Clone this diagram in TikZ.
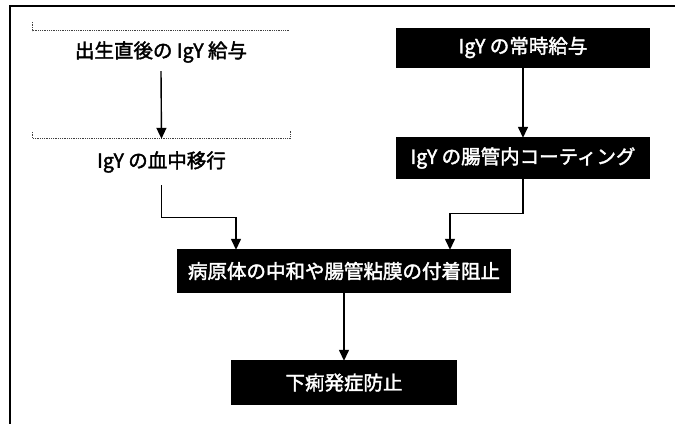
\documentclass[tikz,border=0pt]{standalone}
\usepackage{fontspec}
\setmainfont{Noto Sans CJK JP}
\newfontface\jpmed[FakeBold=2]{Noto Sans CJK JP}
\usetikzlibrary{arrows.meta}
\tikzset{
  wbox/.style={minimum height=42pt, inner sep=0pt, font=\jpmed\fontsize{19.5}{19.5}\selectfont},
  bbox/.style={fill=black, text=white, inner sep=0pt, font=\jpmed\fontsize{19.5}{19.5}\selectfont},
  arr/.style={line width=1.4pt, -{Triangle[width=10pt,length=11pt]}},
  edge/.style={line width=0.8pt, densely dotted, black!75},
  frame/.style={line width=1.6pt}
}
\begin{document}
\begin{tikzpicture}[x=1pt,y=-1pt]
\useasboundingbox (0,0) rectangle (675,424);
% outer frame
\coordinate (ftl) at (10,6);
\coordinate (ftr) at (675,6);
\coordinate (fbl) at (10,424);
\draw[frame] (ftr) -- (ftl) -- (fbl);
% left column
\node[wbox, minimum width=256pt] (n1) at (161,52) {出生直後の IgY 給与};
\node[wbox, minimum width=257pt, minimum height=46pt] (n2) at (161.5,162) {IgY の血中移行};
\draw[edge] ([yshift=9pt]n1.north west) -- (n1.north west) -- (n1.north east);
\draw[edge] ([yshift=7pt]n2.north west) -- (n2.north west) -- (n2.north east) -- ([yshift=8pt]n2.north east);
% right column
\node[bbox, minimum width=254pt, minimum height=40pt] (r1) at (523,47.5) {IgY の常時給与};
\node[bbox, minimum width=254pt, minimum height=42pt] (r2) at (523,158) {IgY の腸管内コーティング};
% middle and bottom
\node[bbox, minimum width=334pt, minimum height=44pt] (mid) at (344,271) {病原体の中和や腸管粘膜の付着阻止};
\node[bbox, minimum width=226pt, minimum height=45pt] (bot) at (344,382.5) {下痢発症防止};
% connectors
\draw[arr] ([yshift=2pt]n1.south) -- (n2.north);
\draw[arr] ([yshift=3pt]r1.south) -- ([yshift=-1pt]r2.north);
\draw[arr] (n2.south) -- ++(0,32) -| ([xshift=-108pt,yshift=-1pt]mid.north);
\draw[arr] ([yshift=3pt]r2.south) -- ++(0,37) -| ([xshift=106pt,yshift=-1pt]mid.north);
\draw[arr] (mid.south) -- ([yshift=-1pt]bot.north);
\end{tikzpicture}
\end{document}
